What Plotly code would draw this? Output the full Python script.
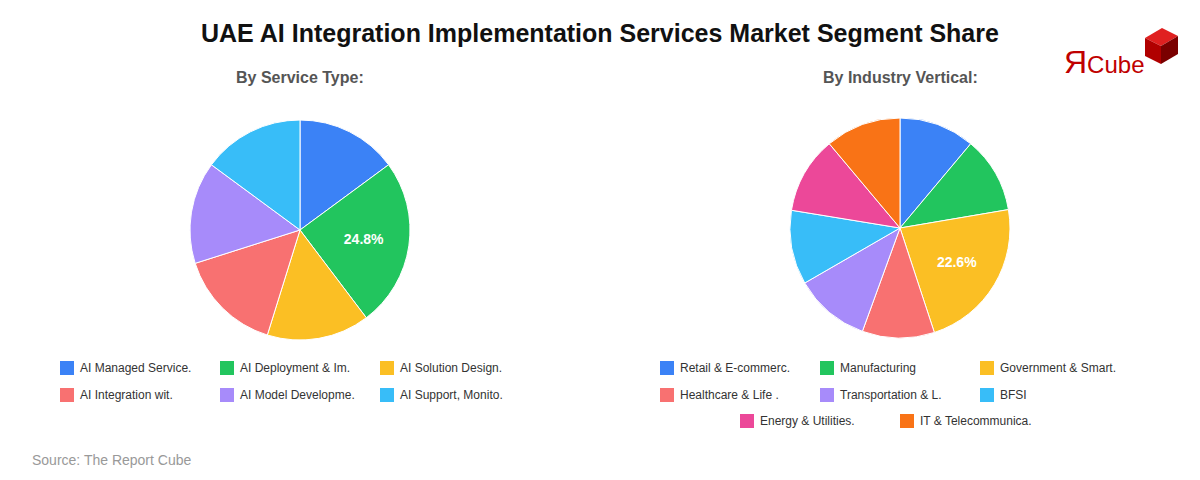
import plotly.graph_objects as go

W, H = 1200, 480
svc_labels = ["AI Managed Service.", "AI Deployment & Im.", "AI Solution Design.",
              "AI Integration wit.", "AI Model Developme.", "AI Support, Monito."]
svc_values = [14.9, 24.8, 15.1, 15.3, 15.0, 14.9]
svc_colors = ["#3b82f6", "#22c55e", "#fbbf24", "#f87171", "#a78bfa", "#38bdf8"]

ind_labels = ["Retail & E-commerc.", "Manufacturing", "Government & Smart.",
              "Healthcare & Life .", "Transportation & L.", "BFSI",
              "Energy & Utilities.", "IT & Telecommunica."]
ind_values = [11.1, 11.2, 22.6, 10.6, 11.1, 10.9, 11.3, 11.1]
ind_colors = ["#3b82f6", "#22c55e", "#fbbf24", "#f87171", "#a78bfa", "#38bdf8",
              "#ec4899", "#f97316"]

OFF = 8
def px(x, y):
    return (x - OFF) / W, 1 - (y - OFF) / H

def pie(labels, values, colors, dom):
    mx = max(values)
    return go.Pie(labels=labels, values=values, sort=False, direction="clockwise",
                  rotation=0, marker=dict(colors=colors, line=dict(color="white", width=1)),
                  texttemplate=[("<b>%{percent:.1%}</b>" if v == mx else "") for v in values],
                  textposition="inside", insidetextorientation="horizontal",
                  textfont=dict(color="white", size=14, family="Arial"),
                  domain=dom, showlegend=False, hoverinfo="label+percent")

def dom(cx, cy, r):
    x0, y1 = px(cx - r, cy - r); x1, y0 = px(cx + r, cy + r)
    return dict(x=[x0, x1], y=[y0, y1])

fig = go.Figure()
fig.add_trace(pie(svc_labels, svc_values, svc_colors, dom(300, 230, 110)))
fig.add_trace(pie(ind_labels, ind_values, ind_colors, dom(900, 228, 110)))

shapes, ann = [], []
def legend(labels, colors, positions):
    for lab, col, (x, y) in zip(labels, colors, positions):
        x0, y0 = px(x, y - 7); x1, y1 = px(x + 14, y + 7)
        shapes.append(dict(type="rect", xref="paper", yref="paper", x0=x0, x1=x1, y0=y1, y1=y0,
                           fillcolor=col, line=dict(width=0)))
        tx, ty = px(x + 18, y)
        ann.append(dict(text=lab, x=tx, y=ty, xref="paper", yref="paper", xanchor="left",
                        yanchor="middle", showarrow=False, font=dict(size=12, color="#333", family="Arial")))

legend(svc_labels, svc_colors, [(60, 368), (220, 368), (380, 368), (60, 395), (220, 395), (380, 395)])
legend(ind_labels, ind_colors, [(660, 368), (820, 368), (980, 368), (660, 395), (820, 395), (980, 395),
                                (740, 421), (900, 421)])

def text(t, x, y, size, color, bold=False, anchor="center"):
    tx, ty = px(x, y)
    ann.append(dict(text=f"<b>{t}</b>" if bold else t, x=tx, y=ty, xref="paper", yref="paper",
                    xanchor=anchor, yanchor="middle", showarrow=False,
                    font=dict(size=size, color=color, family="Arial")))

text("UAE AI Integration Implementation Services Market Segment Share", 600, 33, 25, "#111", True)
text("By Service Type:", 300, 77, 16, "#555", True)
text("By Industry Vertical:", 900, 77, 16, "#555", True)
text("Source: The Report Cube", 30, 460, 14, "#999", False, "left")
text("<span style='font-size:32px'>Я</span>Cube", 1062, 62, 24, "#c00000", False, "left")

def path(pts, col):
    s = "M " + " L ".join(f"{px(x,y)[0]},{px(x,y)[1]}" for x, y in pts) + " Z"
    shapes.append(dict(type="path", xref="paper", yref="paper", path=s, fillcolor=col, line=dict(width=0)))
path([(1145, 38), (1162, 28), (1178, 36), (1161, 46)], "#e02020")
path([(1145, 38), (1161, 46), (1161, 64), (1145, 56)], "#b00000")
path([(1161, 46), (1178, 36), (1178, 54), (1161, 64)], "#7a0000")

fig.update_layout(width=W, height=H, margin=dict(l=0, r=0, t=0, b=0), paper_bgcolor="white",
                  plot_bgcolor="white", shapes=shapes, annotations=ann)
fig.write_html("out.html")
